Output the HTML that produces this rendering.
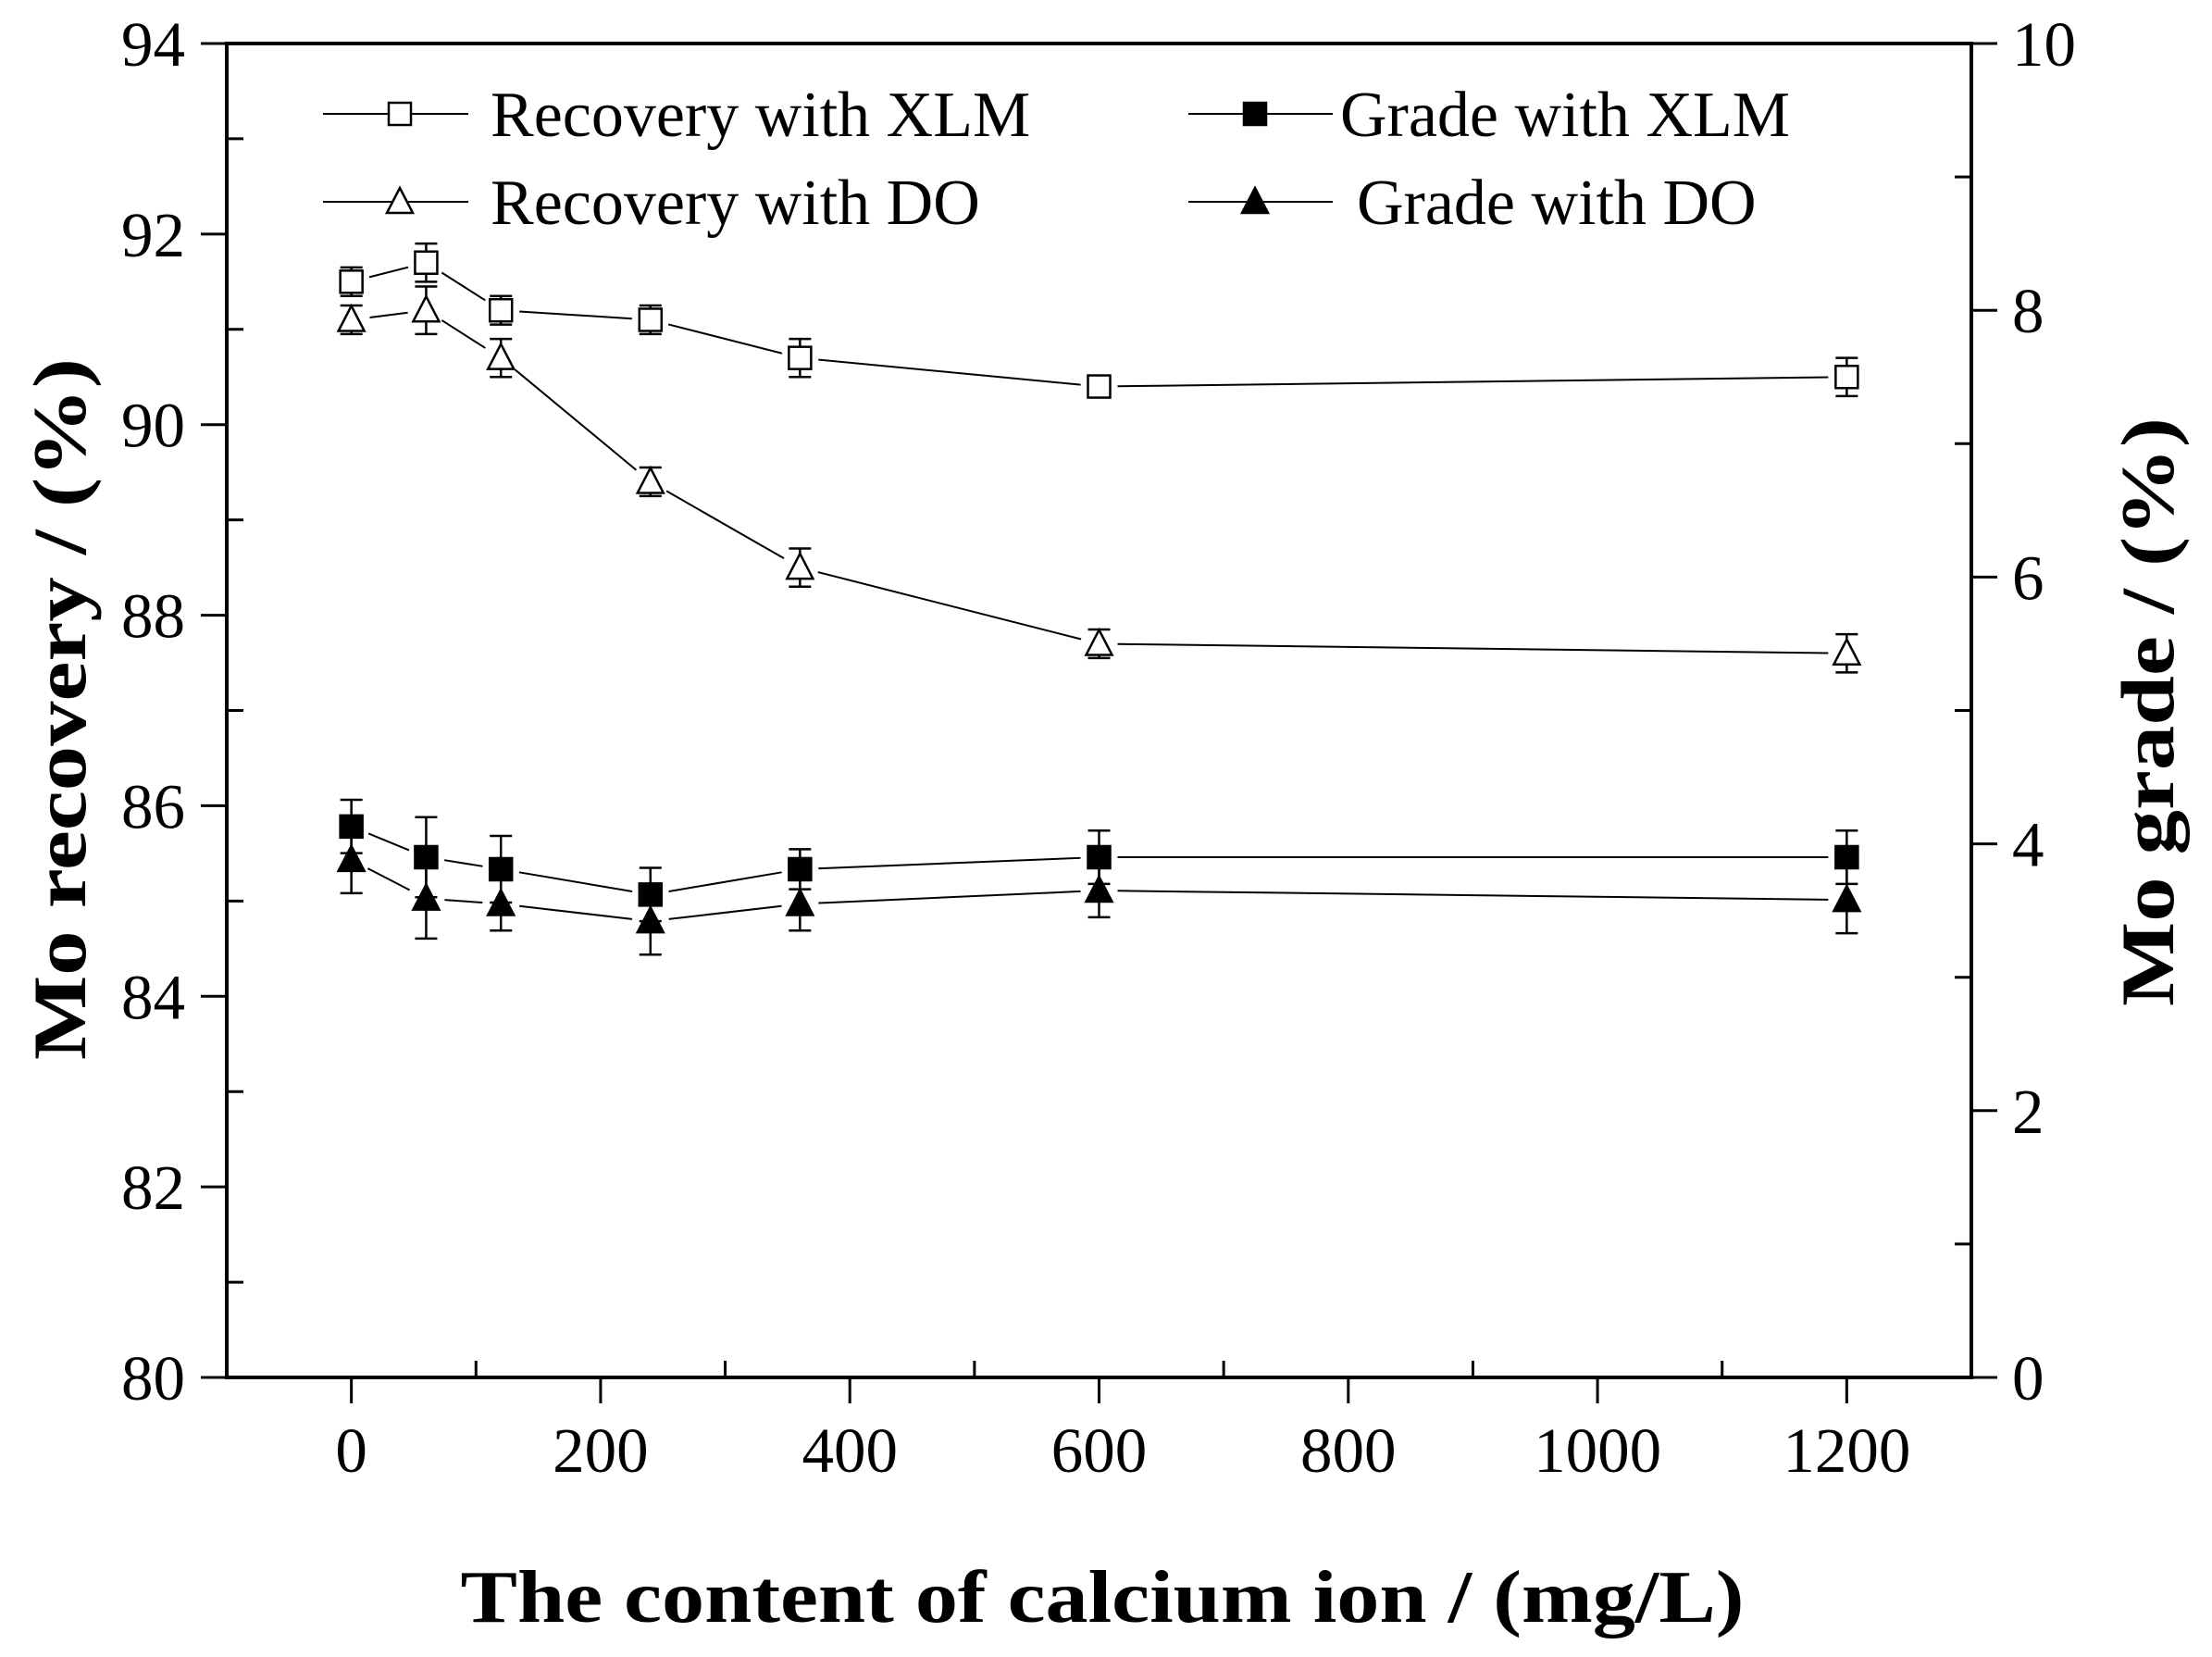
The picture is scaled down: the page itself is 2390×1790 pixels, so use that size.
<!DOCTYPE html>
<html><head><meta charset="utf-8"><style>
html,body{margin:0;padding:0;background:#fff;}
svg{display:block;font-family:"Liberation Serif",serif;}
</style></head><body>
<svg id="chart" width="2390" height="1790" viewBox="0 0 2390 1790" xmlns="http://www.w3.org/2000/svg">
<g id="axes"></g>
<g id="series"></g>
<g id="legend"></g>
<text x="1191" y="1752" text-anchor="middle" font-weight="bold" font-size="80" textLength="1387" lengthAdjust="spacingAndGlyphs">The content of calcium ion / (mg/L)</text>
<text transform="translate(92,766) rotate(-90)" text-anchor="middle" font-weight="bold" font-size="82" textLength="758" lengthAdjust="spacingAndGlyphs">Mo recovery / (%)</text>
<text transform="translate(2348,769) rotate(-90)" text-anchor="middle" font-weight="bold" font-size="82" textLength="636" lengthAdjust="spacingAndGlyphs">Mo grade / (%)</text>
</svg>
<script>
const categories = [0, 60, 120, 240, 360, 600, 1200];
const recoveryXLM = [91.5, 91.7, 91.2, 91.1, 90.7, 90.4, 90.5];
const recoveryDO = [91.1, 91.2, 90.7, 89.4, 88.5, 87.7, 87.6];
const gradeXLM = [4.13, 3.90, 3.81, 3.62, 3.81, 3.90, 3.90];
const gradeDO = [3.88, 3.59, 3.55, 3.42, 3.55, 3.65, 3.58];
const errRecXLM = [0.15, 0.2, 0.15, 0.15, 0.2, 0.1, 0.2];
const errRecDO = [0.15, 0.25, 0.2, 0.15, 0.2, 0.15, 0.2];
const errGradeXLM = [0.2, 0.3, 0.25, 0.2, 0.15, 0.2, 0.2];
const errGradeDO = [0.25, 0.3, 0.2, 0.25, 0.2, 0.2, 0.25];
const xTicks = [0, 200, 400, 600, 800, 1000, 1200];
const leftTicks = [80, 82, 84, 86, 88, 90, 92, 94];
const rightTicks = [0, 2, 4, 6, 8, 10];

const L=245,R=2130,T=47,B=1488;
const X0=-100,X1=1300;
const sx=v=>L+(v-X0)/(X1-X0)*(R-L);
const syL=v=>B-(v-80)/14*(B-T);
const syR=v=>B-v/10*(B-T);
const NS="http://www.w3.org/2000/svg";
function mk(tag,attrs,parent){const e=document.createElementNS(NS,tag);for(const k in attrs)e.setAttribute(k,attrs[k]);parent.appendChild(e);return e;}
const axes=document.getElementById('axes');
const series=document.getElementById('series');
const legend=document.getElementById('legend');

let f=mk('rect',{x:L,y:T,width:R-L,height:B-T,fill:'none',stroke:'#000','stroke-width':4},axes);


for(let v=-100;v<=1300;v+=100){
  const major=xTicks.includes(v);
  if(v===-100||v===1300) continue;
  let t=mk('line',{x1:sx(v),x2:sx(v),y1:B,y2:major?B+28:B-18,stroke:'#000','stroke-width':3},axes);
  
  
}
xTicks.forEach(v=>{
  let t=mk('text',{x:sx(v),y:1590,'text-anchor':'middle','font-size':69},axes);
  t.textContent=v;
  
  
});
for(let v=80;v<=94;v+=1){
  const major=v%2===0;
  let t=mk('line',{x1:major?L-28:L,x2:major?L:L+18,y1:syL(v),y2:syL(v),stroke:'#000','stroke-width':3},axes);
  
  
}
leftTicks.forEach(v=>{
  let t=mk('text',{x:200,y:syL(v)+24,'text-anchor':'end','font-size':69},axes);
  t.textContent=v;
  
  
});
for(let v=0;v<=10;v+=1){
  const major=v%2===0;
  let t=mk('line',{x1:major?R:R-18,x2:major?R+28:R,y1:syR(v),y2:syR(v),stroke:'#000','stroke-width':3},axes);
  
  
}
rightTicks.forEach(v=>{
  let t=mk('text',{x:2174,y:syR(v)+24,'text-anchor':'start','font-size':69},axes);
  t.textContent=v;
  
  
});

function marker(kind,cx,cy,parent,name){
  let e;
  if(kind==='sq'||kind==='sqf'){
    e=mk('rect',{x:cx-12,y:cy-12,width:24,height:24,fill:kind==='sqf'?'#000':'#fff',stroke:'#000','stroke-width':2.5},parent);
  }else{
    e=mk('polygon',{points:`${cx},${cy-15} ${cx+14},${cy+12} ${cx-14},${cy+12}`,fill:kind==='trf'?'#000':'#fff',stroke:'#000','stroke-width':2.5},parent);
  }
  
  
}
function drawSeries(vals,errs,sy,kind,name){
  const g=mk('g',{},series);
  
  
  const pts=categories.map((c,i)=>[sx(c),sy(vals[i])]);
  for(let i=0;i<pts.length-1;i++){
    const [x1,y1]=pts[i],[x2,y2]=pts[i+1];
    const d=Math.hypot(x2-x1,y2-y1),gap=20;
    if(d<=2*gap) continue;
    const ux=(x2-x1)/d,uy=(y2-y1)/d;
    let l=mk('line',{x1:x1+ux*gap,y1:y1+uy*gap,x2:x2-ux*gap,y2:y2-uy*gap,stroke:'#000','stroke-width':2},g);
    
    
  }
  categories.forEach((c,i)=>{
    const x=sx(c),yt=sy(vals[i]+errs[i]),yb=sy(vals[i]-errs[i]);
    let e=mk('path',{d:`M${x},${yt}V${yb}M${x-12},${yt}H${x+12}M${x-12},${yb}H${x+12}`,stroke:'#000','stroke-width':2.5,fill:'none'},g);
    
    
  });
  pts.forEach(p=>marker(kind,p[0],p[1],g,'data-point'));
}
drawSeries(recoveryXLM,errRecXLM,syL,'sq','recovery-xlm-series');
drawSeries(recoveryDO,errRecDO,syL,'tr','recovery-do-series');
drawSeries(gradeXLM,errGradeXLM,syR,'sqf','grade-xlm-series');
drawSeries(gradeDO,errGradeDO,syR,'trf','grade-do-series');

const legendItems=[
 ['Recovery with XLM','sq',349,506,432,530,123],
 ['Grade with XLM','sqf',1284,1440,1356,1448,123],
 ['Recovery with DO','tr',349,506,432,530,218],
 ['Grade with DO','trf',1284,1440,1356,1466,218]];
legendItems.forEach(it=>{
  const g=mk('g',{},legend);
  
  
  let l=mk('line',{x1:it[2],x2:it[3],y1:it[6],y2:it[6],stroke:'#000','stroke-width':2},g);
  
  
  marker(it[1],it[4],it[6],g,'legend-marker');
  let t=mk('text',{x:it[5],y:it[6]+24,'font-size':70},g);
  t.textContent=it[0];
  
  
});
</script>
</body></html>
